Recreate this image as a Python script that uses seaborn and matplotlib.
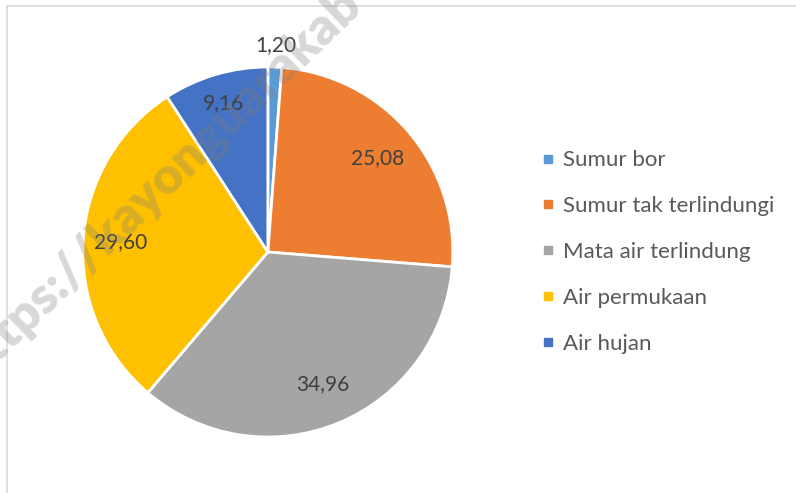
import matplotlib.pyplot as plt
import seaborn as sns
import numpy as np
from matplotlib.lines import Line2D
from matplotlib.patches import Rectangle

categories = ["Sumur bor", "Sumur tak terlindungi", "Mata air terlindung",
              "Air permukaan", "Air hujan"]
values = [1.20, 25.08, 34.96, 29.60, 9.16]
colors = ["#5B9BD5", "#ED7D31", "#A5A5A5", "#FFC000", "#4472C4"]
label_dist = [1.12, 0.78, 0.77, 0.80, 0.84]


def main():
    sns.set_theme(style="white")
    plt.rcParams['font.family'] = ['Lato', 'DejaVu Sans']
    pal = sns.color_palette(colors)

    fig = plt.figure(figsize=(7.96, 4.93), dpi=100)
    ax = fig.add_axes([0.104, 0.1136, 0.465, 0.7505])
    wedges, _ = ax.pie(values, colors=pal, startangle=90, counterclock=False,
                       radius=1, wedgeprops=dict(edgecolor="white", linewidth=2))
    ax.set_xlim(-1, 1)
    ax.set_ylim(-1, 1)
    ax.set_aspect("equal")
    ax.axis("off")

    # data labels with decimal comma
    for w, v, d in zip(wedges, values, label_dist):
        ang = np.deg2rad((w.theta1 + w.theta2) / 2)
        ax.text(d * np.cos(ang), d * np.sin(ang), f"{v:.2f}".replace(".", ","),
                ha="center", va="center", fontsize=15, color="#404040")

    handles = [Line2D([], [], marker="s", linestyle="none", markersize=6,
                      markerfacecolor=c, markeredgecolor=c) for c in pal]
    fig.legend(handles, categories, loc="center left",
               bbox_to_anchor=(521 / 796, 1 - 252 / 493), frameon=False,
               fontsize=16, labelcolor="#595959", handlelength=0.6,
               handletextpad=0.4, labelspacing=1.16)

    # watermark
    fig.text(-36 / 796, 1 - 372 / 493, "https://kayonguarakab", rotation=44,
             rotation_mode="anchor", fontsize=37, fontweight="heavy",
             color="#7f7f7f", alpha=0.3, ha="left", va="center", zorder=10)

    # chart border
    fig.patches.append(Rectangle((7 / 796, -0.1), 1.0, 1 - 6 / 493 + 0.1,
                                 transform=fig.transFigure, fill=False,
                                 edgecolor="#d9d9d9", linewidth=1.2))

    fig.savefig("out.png", dpi=100)


if __name__ == "__main__":
    main()
